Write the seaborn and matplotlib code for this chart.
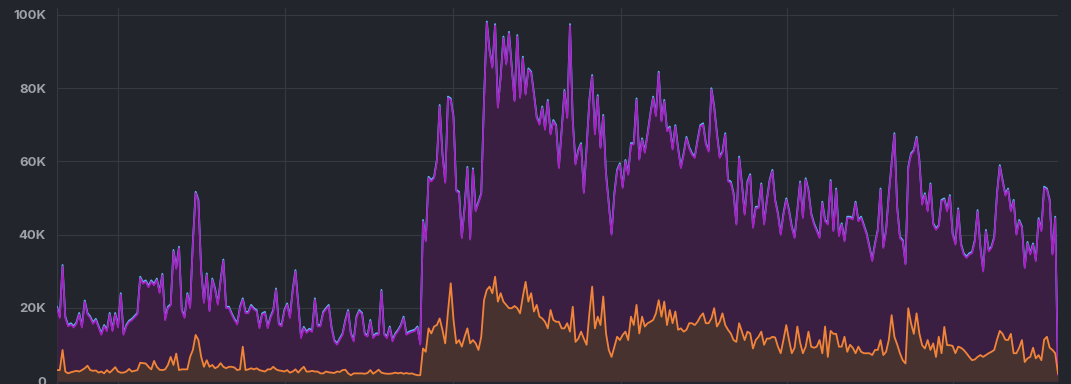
import numpy as np
import matplotlib
matplotlib.use("Agg")
import matplotlib.pyplot as plt
import matplotlib.transforms as mtransforms
from matplotlib.ticker import FuncFormatter
import seaborn as sns

# values in thousands, one sample per time step
total_k = [
    # first stretch, low traffic
    20.3, 17.6, 31.7, 17.6, 15.3, 15.8, 15.0, 16.0, 18.6, 15.0, 22.0, 18.6, 17.6, 16.0, 17.0, 15.0, 13.0,
    15.3, 14.0, 18.6, 14.0, 18.6, 15.0, 24.0, 13.0, 15.3, 16.5, 17.0, 17.8, 18.6, 28.5, 27.0, 27.5, 26.0,
    27.5, 26.5, 28.0, 24.4, 29.3, 17.0, 20.3, 21.0, 35.8, 31.0, 36.7, 19.5, 17.6, 24.0, 20.3, 38.0, 51.7,
    49.5, 30.3, 21.7, 29.4, 19.4, 28.0, 25.3, 21.2, 27.6, 33.2, 20.3, 20.3, 18.5, 17.0, 15.8, 20.3, 22.6,
    18.9, 18.9, 20.8, 19.9, 19.4, 14.8, 18.5, 18.9, 14.8, 17.6, 19.4, 25.3, 15.8, 15.3, 19.4, 21.2, 17.6,
    24.9, 30.3, 21.2, 12.1, 14.8, 13.5, 14.3, 13.8, 22.6, 15.3, 15.3, 18.9, 19.9, 20.8, 14.8, 11.2, 10.3, 11.7,
    13.0, 16.7, 19.4, 13.0, 11.2, 17.6, 19.4, 18.6, 13.0, 12.5, 16.7, 12.1, 13.0, 13.0, 24.9, 13.0, 12.1,
    14.9, 11.2, 13.0, 14.0, 15.3, 17.6, 13.0, 13.5, 13.8, 14.0, 14.9, 10.3,
    # jump
    44.0, 38.5, 55.8, 54.9, 55.8, 60.4, 75.4, 62.2, 54.5, 77.7, 77.2, 72.2, 52.2, 51.7, 39.4, 47.6, 58.5,
    39.0, 58.1, 46.7, 49.0, 51.3, 76.8, 98.2,
    90.4, 85.9, 97.5, 75.0, 83.2, 94.1, 86.8, 95.4, 85.9, 76.8, 94.5, 77.7, 88.6, 78.6, 85.4, 84.5, 78.6,
    72.2, 70.4, 75.0, 69.0, 76.8, 67.7, 71.3, 69.9, 58.5, 68.6, 79.5, 72.2, 97.5, 71.3, 59.5, 63.1, 65.0,
    51.7, 64.0, 76.8, 83.6, 67.7, 78.1, 64.0, 72.7, 56.7, 48.5, 40.3, 51.3, 57.7, 59.5, 53.1, 60.4, 56.7, 65.0,
    65.0, 77.2, 60.8, 66.3, 62.7, 67.7, 73.1, 77.7, 72.7, 84.5, 71.3, 76.8, 68.6, 69.5, 63.6, 69.9, 63.6,
    58.5, 62.2, 66.7, 63.9, 62.2, 61.3, 65.8, 69.9, 70.4, 65.0, 63.0, 80.0, 75.0, 67.7, 61.3, 62.7, 67.7,
    54.9, 54.5, 51.3, 43.1, 61.3, 54.0, 45.8, 54.5, 56.5, 42.2, 47.6, 47.6, 54.0, 43.1, 49.5, 54.9, 57.7,
    49.5, 45.8, 40.3, 45.8, 49.9, 46.7, 42.2, 39.4, 46.7, 54.5, 44.9, 55.4, 52.2, 45.8, 43.1, 41.3, 39.4,
    49.0, 44.0, 43.1, 54.9, 41.3, 52.6, 39.9, 43.1, 38.5, 44.9, 44.9, 44.5, 49.0, 44.0, 44.9, 42.6, 40.3,
    36.7, 33.1, 37.6, 41.3, 52.6, 36.7, 41.3, 51.3, 59.5, 67.7, 47.6, 39.4, 38.5, 32.2, 58.5, 62.2, 63.1, 66.7,
    60.4, 48.5, 51.3, 46.7, 54.0, 43.1, 41.7, 42.6, 49.5, 49.9, 46.7, 50.8, 40.3, 37.6, 47.2, 37.6, 34.9,
    34.0, 34.9, 35.3, 38.5, 46.7, 36.7, 30.3, 41.3, 35.8, 36.7, 39.4, 51.3, 59.0, 54.9, 51.0, 52.6, 46.7,
    49.5, 40.3, 44.0, 42.2, 31.2, 38.0, 34.9, 37.6, 33.1, 44.5, 41.3, 53.1, 52.6, 49.5, 34.9, 44.9, 2.0,
]

orange_k = [
    3.0, 3.0, 8.5, 2.6, 2.1, 2.4, 2.6, 2.8, 2.6, 3.0, 3.5, 4.2, 3.0, 2.8, 2.9, 2.3, 2.6, 2.1, 3.0, 2.3,
    3.0, 3.8, 2.6, 2.3, 2.3, 2.6, 3.3, 2.6, 2.8, 3.0, 5.0, 4.9, 4.8, 3.9, 3.2, 5.5, 3.9, 3.1, 3.0, 3.2,
    4.4, 6.6, 4.4, 7.5, 3.0, 3.2, 3.2, 3.2, 6.6, 8.5, 12.6,
    11.2, 6.6, 3.9, 5.7, 3.9, 4.4, 3.5, 3.9, 4.9, 3.9, 3.5, 3.9, 3.9, 3.7, 3.0, 3.2, 9.4, 3.0, 3.2, 3.5,
    3.2, 3.5, 3.0, 2.8, 2.6, 3.2, 3.2, 3.9, 3.2, 2.9, 2.8, 2.6, 3.0, 2.3, 2.6, 3.2, 2.3, 3.2, 3.9, 2.6,
    2.6, 2.8, 2.6, 2.6, 2.1, 2.1, 2.6, 2.4, 2.3, 2.2, 2.6, 2.5,
    3.0, 3.1, 2.1, 1.6, 2.1, 2.1, 2.1, 2.1, 2.0, 2.2, 3.0, 2.0, 2.5, 3.1, 2.3, 2.1, 2.0, 2.0, 2.1, 2.3,
    2.1, 2.3, 2.0, 2.2, 2.0, 2.1, 1.8, 1.6, 1.6,
    8.9, 8.0, 14.4, 13.0, 14.9, 15.3, 17.1, 14.0, 10.3, 18.9, 26.7, 16.7, 10.3, 11.2, 9.4, 12.1, 14.4,
    10.3, 11.2, 10.3, 8.5, 12.1, 22.1, 24.9,
    25.8, 24.0, 28.5, 21.7, 24.0, 21.7, 20.8, 19.9, 19.9, 20.5, 19.9, 18.5, 23.1, 27.1, 21.7, 24.0, 19.0,
    20.8, 17.6, 17.1, 16.2, 14.4, 19.4, 16.7, 16.2, 16.2, 14.4, 14.4, 15.8, 13.5, 20.3, 10.7, 11.6, 13.5,
    11.6, 9.9, 18.5, 25.8, 14.4, 17.6, 15.3, 23.1, 13.0, 8.5, 6.6, 9.4, 12.1, 11.2, 12.6, 13.5, 11.2, 17.6,
    15.3, 20.8, 13.0, 17.6, 14.9, 15.8, 16.2, 16.7, 18.5, 22.1, 17.6, 21.7, 15.3, 19.4, 15.8, 19.0, 14.0,
    14.4, 13.5, 14.0, 15.8, 15.8, 15.3, 16.2, 17.6, 18.5, 15.8, 15.8, 17.1, 19.9, 14.9, 16.2, 18.5, 15.3,
    14.0, 13.0, 11.2, 10.7, 15.8, 13.5, 11.2, 13.5, 13.0, 8.9, 11.2, 12.1, 13.5, 9.9, 11.6, 11.6, 12.1,
    11.9, 9.4, 7.6, 11.3, 15.3, 11.2, 7.6, 9.1, 14.9, 10.5, 7.6, 9.4, 13.5, 9.4, 9.1, 9.4, 11.2, 7.6,
    14.9, 6.6, 13.7, 12.9, 12.9, 9.4, 9.4, 12.1, 8.0, 9.9, 9.1, 7.6, 9.4, 8.0, 7.6, 7.6, 7.6, 7.1, 8.5,
    8.5, 11.2, 7.1, 8.0, 11.3, 18.0, 12.1, 10.0, 7.6, 5.7, 4.8, 19.9, 15.8, 12.9, 18.5,
    13.0, 9.8, 8.9, 11.2, 8.5, 10.3, 6.6, 12.1, 7.6, 14.8, 9.8, 9.8, 9.6, 7.6, 9.4, 9.1, 8.5, 7.6, 6.6,
    5.7, 5.9, 6.6, 7.1, 6.6, 7.1, 7.6, 8.0, 8.5, 11.3, 13.7, 12.9, 11.3, 11.2, 12.9, 7.6, 7.6, 9.1, 11.2,
    5.2, 6.2, 6.6, 9.1, 6.2, 7.1, 5.7, 11.3, 12.1, 9.1, 8.5, 7.6, 2.0,
]

y_ticks = [0, 20, 40, 60, 80, 100]
# vertical grid lines, as fractions of the time span
grid_frac = [0.0, 0.061, 0.228, 0.396, 0.563, 0.729, 0.895]

BG = "#23252c"
GRID = "#363940"

sns.set_theme(style="dark", rc={
    "figure.facecolor": BG,
    "axes.facecolor": BG,
    "axes.edgecolor": BG,
    "grid.color": GRID,
    "xtick.color": "#9da1a9",
    "ytick.color": "#9da1a9",
})
plt.rcParams["font.family"] = ["Inter", "DejaVu Sans"]

n = len(total_k)
idx = np.arange(n)
total = np.array(total_k)
orange = np.array(orange_k)

fig = plt.figure(figsize=(10.71, 3.84), dpi=100)
ax = fig.add_axes([57 / 1071, 0.0, 1001 / 1071, 376 / 384])

ax.fill_between(idx, 0, total, color="#3a1f43", lw=0, zorder=1)
ax.fill_between(idx, 0, orange, color="#48322f", lw=0, zorder=2)

sns.lineplot(x=idx, y=total, ax=ax, color="#5cb8f2", lw=1.3, estimator=None, zorder=3)
sns.lineplot(x=idx, y=total, ax=ax, color="#a81fc4", lw=1.2, estimator=None, zorder=4)
# the purple trace sits just under the blue one
ax.lines[-1].set_transform(mtransforms.offset_copy(ax.transData, fig=fig, x=0, y=-1.4, units="dots"))
sns.lineplot(x=idx, y=orange, ax=ax, color="#f2843a", lw=1.3, estimator=None, zorder=5)

ax.set_xlim(0, n - 1)
ax.set_ylim(-0.8, 101.9)
ax.set_xticks([f * (n - 1) for f in grid_frac])
ax.set_xticklabels([])
ax.set_yticks(y_ticks)
ax.yaxis.set_major_formatter(FuncFormatter(lambda v, p: "0" if v == 0 else f"{v:.0f}K"))
ax.tick_params(axis="both", length=0)
ax.tick_params(axis="y", pad=8, labelsize=9.5)
for lab in ax.get_yticklabels():
    lab.set_fontweight("bold")
ax.grid(True, color=GRID, lw=0.8)
ax.set_xlabel("")
ax.set_ylabel("")
for s in ax.spines.values():
    s.set_visible(False)

fig.savefig("out.png", dpi=100, facecolor=BG)
